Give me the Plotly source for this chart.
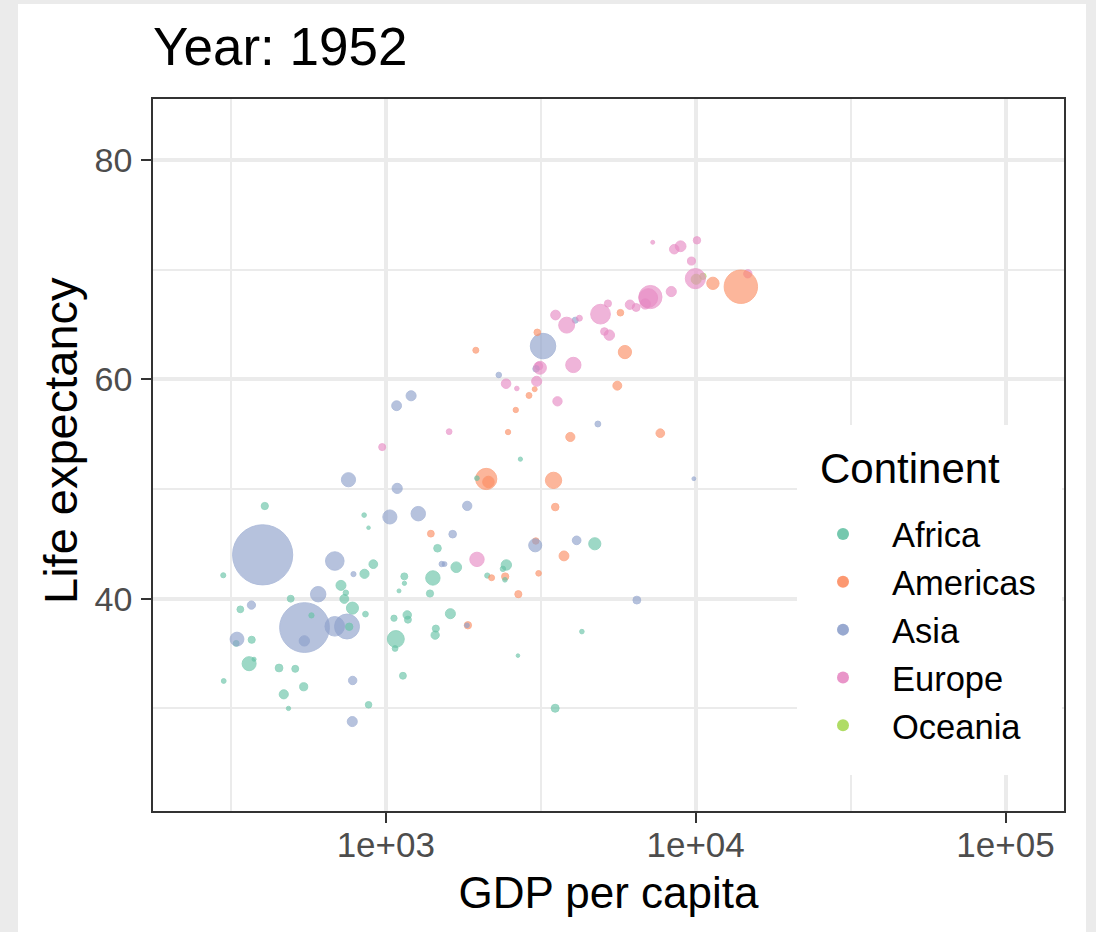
import numpy as np
import plotly.graph_objects as go

# ---------------- data (gapminder, year 1952) ----------------
countries = [
    "Afghanistan", "Albania", "Algeria", "Angola", "Argentina", "Australia", "Austria", "Bahrain",
    "Bangladesh", "Belgium", "Benin", "Bolivia", "Bosnia and Herzegovina", "Botswana", "Brazil",
    "Bulgaria", "Burkina Faso", "Burundi", "Cambodia", "Cameroon", "Canada",
    "Central African Republic", "Chad", "Chile", "China", "Colombia", "Comoros",
    "Congo, Dem. Rep.", "Congo, Rep.", "Costa Rica", "Cote d'Ivoire", "Croatia", "Cuba",
    "Czech Republic", "Denmark", "Djibouti", "Dominican Republic", "Ecuador", "Egypt",
    "El Salvador", "Equatorial Guinea", "Eritrea", "Ethiopia", "Finland", "France", "Gabon",
    "Gambia", "Germany", "Ghana", "Greece", "Guatemala", "Guinea", "Guinea-Bissau", "Haiti",
    "Honduras", "Hong Kong, China", "Hungary", "Iceland", "India", "Indonesia", "Iran", "Iraq",
    "Ireland", "Israel", "Italy", "Jamaica", "Japan", "Jordan", "Kenya", "Korea, Dem. Rep.",
    "Korea, Rep.", "Kuwait", "Lebanon", "Lesotho", "Liberia", "Libya", "Madagascar", "Malawi",
    "Malaysia", "Mali", "Mauritania", "Mauritius", "Mexico", "Mongolia", "Montenegro", "Morocco",
    "Mozambique", "Myanmar", "Namibia", "Nepal", "Netherlands", "New Zealand", "Nicaragua",
    "Niger", "Nigeria", "Norway", "Oman", "Pakistan", "Panama", "Paraguay", "Peru",
    "Philippines", "Poland", "Portugal", "Puerto Rico", "Reunion", "Romania", "Rwanda",
    "Sao Tome and Principe", "Saudi Arabia", "Senegal", "Serbia", "Sierra Leone", "Singapore",
    "Slovak Republic", "Slovenia", "Somalia", "South Africa", "Spain", "Sri Lanka", "Sudan",
    "Swaziland", "Sweden", "Switzerland", "Syria", "Taiwan", "Tanzania", "Thailand", "Togo",
    "Trinidad and Tobago", "Tunisia", "Turkey", "Uganda", "United Kingdom", "United States",
    "Uruguay", "Venezuela", "Vietnam", "West Bank and Gaza", "Yemen, Rep.", "Zambia", "Zimbabwe",
]

continents = [
    "Asia", "Europe", "Africa", "Africa", "Americas", "Oceania", "Europe", "Asia",
    "Asia", "Europe", "Africa", "Americas", "Europe", "Africa", "Americas",
    "Europe", "Africa", "Africa", "Asia", "Africa", "Americas",
    "Africa", "Africa", "Americas", "Asia", "Americas", "Africa",
    "Africa", "Africa", "Americas", "Africa", "Europe", "Americas",
    "Europe", "Europe", "Africa", "Americas", "Americas", "Africa",
    "Americas", "Africa", "Africa", "Africa", "Europe", "Europe", "Africa",
    "Africa", "Europe", "Africa", "Europe", "Americas", "Africa", "Africa", "Americas",
    "Americas", "Asia", "Europe", "Europe", "Asia", "Asia", "Asia", "Asia",
    "Europe", "Asia", "Europe", "Americas", "Asia", "Asia", "Africa", "Asia",
    "Asia", "Asia", "Asia", "Africa", "Africa", "Africa", "Africa", "Africa",
    "Asia", "Africa", "Africa", "Africa", "Americas", "Asia", "Europe", "Africa",
    "Africa", "Asia", "Africa", "Asia", "Europe", "Oceania", "Americas",
    "Africa", "Africa", "Europe", "Asia", "Asia", "Americas", "Americas", "Americas",
    "Asia", "Europe", "Europe", "Americas", "Africa", "Europe", "Africa",
    "Africa", "Asia", "Africa", "Europe", "Africa", "Asia",
    "Europe", "Europe", "Africa", "Africa", "Europe", "Asia", "Africa",
    "Africa", "Europe", "Europe", "Asia", "Asia", "Africa", "Asia", "Africa",
    "Americas", "Africa", "Europe", "Africa", "Europe", "Americas",
    "Americas", "Americas", "Asia", "Asia", "Asia", "Africa", "Africa",
]

life_exp = [
    28.801, 55.23, 43.077, 30.015, 62.485, 69.12, 66.8, 50.939,
    37.484, 68.0, 38.223, 40.414, 53.82, 47.622, 50.917,
    59.6, 31.975, 39.031, 39.417, 38.523, 68.75,
    35.463, 38.092, 54.745, 44.0, 50.643, 40.715,
    39.143, 42.111, 57.206, 40.477, 61.21, 59.421,
    66.87, 70.78, 34.812, 45.928, 48.357, 41.893,
    45.262, 34.482, 35.928, 34.078, 66.55, 67.41, 37.003,
    30.0, 67.5, 43.149, 65.86, 42.023, 33.609, 32.5, 37.579,
    41.912, 60.96, 64.03, 72.49, 37.373, 37.468, 44.869, 45.32,
    66.91, 65.39, 65.94, 58.53, 63.03, 43.158, 42.27, 50.056,
    47.453, 55.565, 55.928, 42.138, 38.48, 42.723, 36.681, 36.256,
    48.463, 33.685, 40.543, 50.986, 50.789, 42.244, 59.164, 42.873,
    31.286, 36.319, 41.725, 36.157, 72.13, 69.39, 42.314,
    37.444, 36.324, 72.67, 37.578, 43.436, 55.191, 62.649, 43.902,
    47.752, 61.31, 59.82, 64.28, 52.724, 61.05, 40.0,
    46.471, 39.875, 37.278, 57.996, 30.331, 60.396,
    64.36, 65.57, 32.978, 45.009, 64.94, 57.593, 38.635,
    41.407, 71.86, 69.62, 45.883, 58.5, 41.215, 50.848, 38.596,
    59.1, 44.6, 43.585, 39.978, 69.18, 68.44,
    66.071, 55.088, 40.412, 43.16, 32.548, 42.038, 48.451,
]

pop = [
    8425333, 1282697, 9279525, 4232095, 17876956, 8691212, 6927772, 120447,
    46886859, 8730405, 1738315, 2883315, 2791000, 442308, 56602560,
    7274900, 4469979, 2445618, 4693836, 5009067, 14785584,
    1291695, 2682462, 6377619, 556263527, 12350771, 153936,
    14100005, 854885, 926317, 2977019, 3882229, 6007797,
    9125183, 4334000, 63149, 2491346, 3548753, 22223309,
    2042865, 216964, 1438760, 20860941, 4090500, 42459667, 420702,
    284320, 69145952, 5581001, 7733250, 3146381, 2664249, 580653, 3201488,
    1517453, 2125900, 9504000, 147962, 372000000, 82052000, 17272000, 5441766,
    2952156, 1620914, 47666000, 1426095, 86459025, 607914, 6464046, 8865488,
    20947571, 160000, 1439529, 748747, 863308, 1019729, 4762912, 2917802,
    6748378, 3838168, 1022556, 516556, 30144317, 800663, 413834, 9939217,
    6446316, 20092996, 485831, 9182536, 10381988, 1994794, 1165790,
    3379468, 33119096, 3327728, 507833, 41346560, 940080, 1555876, 8025700,
    22438691, 25730551, 8526050, 2227000, 257700, 16630000, 2534927,
    60011, 4005677, 2755589, 6860147, 2143249, 1127000,
    3558137, 1489518, 2526994, 14264935, 28549870, 7982342, 8504667,
    290243, 7124673, 4815000, 3661549, 8550362, 8322925, 21289402, 1219113,
    662850, 3647735, 22235677, 5824797, 50430000, 157553000,
    2252965, 5439568, 26246839, 1030585, 4963829, 2672000, 3080907,
]

gdp_percap = [
    779.4453, 1601.0561, 2449.0082, 3520.6103, 5911.3151, 10039.5956, 6137.0765, 9867.0848,
    684.2442, 8343.1051, 1062.7522, 2677.3263, 973.5332, 851.2411, 2108.9444,
    2444.2866, 543.2552, 339.2965, 368.4693, 1172.6677, 11367.1611,
    1071.3107, 1178.6659, 3939.9788, 400.4486, 2144.1151, 1102.9909,
    780.5423, 2125.6214, 2627.0095, 1388.5947, 3119.2365, 5586.5388,
    6876.1403, 9692.3852, 2669.5295, 1397.7171, 3522.1107, 1418.8224,
    3048.3029, 375.6431, 328.9406, 362.1463, 6424.5191, 7029.8093, 4293.4765,
    485.2307, 7144.1144, 911.2989, 3530.6901, 2428.2378, 510.1965, 299.8503, 1840.3669,
    2194.9262, 3054.4212, 5263.6738, 7267.6884, 546.5657, 749.6817, 3035.3260, 4129.7661,
    5210.2803, 4086.5221, 4931.4042, 2898.5309, 3216.9563, 1546.9078, 853.5409, 1088.2778,
    1030.5922, 108382.3529, 4834.8041, 298.8462, 575.5730, 2387.5481, 1443.0117, 369.1651,
    1831.1329, 452.3370, 743.1159, 1967.9557, 3478.1255, 786.5669, 2647.5856, 1688.2036,
    468.5260, 331.0, 2423.7804, 545.8657, 8941.5719, 10556.5757, 3112.3639,
    761.8794, 1077.2819, 10095.4217, 1828.2303, 684.5971, 2480.3803, 1952.3087, 3758.5234,
    1272.8810, 4029.3297, 3068.3199, 3081.9598, 2718.8853, 3144.6132, 493.3239,
    879.5836, 6459.5548, 1450.3570, 3581.4594, 879.7877, 2315.1382,
    5074.6591, 4215.0417, 1135.7498, 4725.2955, 3834.0347, 1083.5320, 1615.9911,
    1148.3766, 8527.8447, 14734.2328, 1643.4854, 1206.9479, 716.6501, 757.7974, 859.8087,
    3023.2719, 1468.4756, 1969.1010, 734.7535, 9979.5085, 13990.4821,
    5716.7667, 7689.7998, 605.0665, 1515.5923, 781.7176, 1147.3888, 406.8841,
]

continent_order = ["Africa", "Americas", "Asia", "Europe", "Oceania"]
x_tick_vals = [1e3, 1e4, 1e5]
x_tick_text = ["1e+03", "1e+04", "1e+05"]
y_tick_vals = [40, 60, 80]

# ---------------- styling ----------------
FONT = "Liberation Sans, Arial, Helvetica, sans-serif"
palette = {
    "Africa": (102, 194, 165),
    "Americas": (252, 141, 98),
    "Asia": (141, 160, 203),
    "Europe": (231, 138, 195),
    "Oceania": (166, 216, 84),
}
ALPHA = 0.9


def rgba(c, a=ALPHA):
    return "rgba(%d,%d,%d,%.3f)" % (c[0], c[1], c[2], a)


# size scale spans the full animation (all years) like ggplot's trained scale
POP_SCALE_MAX = 1318683096.0
pop_arr = np.array(pop, dtype=float)
marker_size = 3.0 + 88.0 * np.sqrt(pop_arr / POP_SCALE_MAX)
point_colors = [rgba(palette[c]) for c in continents]

# axis limits (ggplot default 5% expansion of full-data range)
x_range = [2.2487, 5.1887]
y_range = [20.649, 85.553]

fig = go.Figure()

# all points in data order (like ggplot), one trace
fig.add_trace(go.Scatter(
    x=gdp_percap, y=life_exp, mode="markers",
    text=countries,
    marker=dict(size=marker_size, sizemode="diameter", color=point_colors,
                line=dict(color=point_colors, width=1)),
    showlegend=False, hoverinfo="text",
))

# legend entries
for cont in continent_order:
    fig.add_trace(go.Scatter(
        x=[None], y=[None], mode="markers", name=cont,
        marker=dict(size=12, color=rgba(palette[cont])),
        showlegend=True,
    ))

# panel geometry in pixels
W, H = 1096, 932
L, R, T, B = 153, 1064, 99, 811
pw, ph = R - L, B - T


def px_x(px):
    return (px - L) / pw


def px_y(py):
    return 1 - (py - T) / ph


shapes = [
    # white page area over gray window background
    dict(type="rect", xref="paper", yref="paper",
         x0=px_x(18), x1=px_x(1086), y0=px_y(H + 5), y1=px_y(4),
         fillcolor="white", line=dict(width=0), layer="below"),
    # legend box (covers the grid inside the panel)
    dict(type="rect", xref="paper", yref="paper",
         x0=px_x(797), x1=px_x(1062), y0=px_y(775), y1=px_y(425),
         fillcolor="white", line=dict(width=0), layer="above"),
]

annotations = [
    dict(text="Continent", xref="paper", yref="paper", x=px_x(818), y=px_y(468),
         xanchor="left", yanchor="middle", showarrow=False,
         font=dict(size=42, color="black", family=FONT)),
    dict(text="Life expectancy", xref="paper", yref="paper", x=px_x(60), y=px_y(441),
         xanchor="center", yanchor="middle", textangle=-90, showarrow=False,
         font=dict(size=47, color="black", family=FONT)),
]

fig.update_layout(
    width=W, height=H,
    margin=dict(l=L, r=W - R, t=T, b=H - B, pad=0),
    paper_bgcolor="#EBEBEB",
    plot_bgcolor="white",
    font=dict(family=FONT, color="black"),
    title=dict(text="Year: 1952", x=0, xref="paper", xanchor="left",
               y=1 - 46.5 / H, yref="container", yanchor="middle",
               font=dict(size=53, color="black", family=FONT)),
    shapes=shapes,
    annotations=annotations,
    showlegend=True,
    legend=dict(
        x=px_x(794), y=px_y(505), xanchor="left", yanchor="top",
        bgcolor="rgba(0,0,0,0)", borderwidth=0,
        font=dict(size=34.5, color="black", family=FONT),
        itemsizing="constant", itemwidth=88, tracegroupgap=0,
    ),
)

fig.update_xaxes(
    type="log", range=x_range,
    tickmode="array", tickvals=x_tick_vals, ticktext=x_tick_text,
    ticks="outside", ticklen=10, tickwidth=2, tickcolor="#333333",
    tickfont=dict(size=35, color="#4D4D4D", family=FONT),
    ticklabelstandoff=-8,
    showgrid=True, gridcolor="#EBEBEB", gridwidth=3.5,
    minor=dict(tickmode="array", tickvals=[10 ** 2.5, 10 ** 3.5, 10 ** 4.5],
               showgrid=True, gridcolor="#EBEBEB", gridwidth=1.8, ticks=""),
    showline=True, linecolor="#333333", linewidth=1.5, mirror=True,
    zeroline=False,
    title=dict(text="GDP per capita", font=dict(size=44, color="black", family=FONT), standoff=14),
)
fig.update_yaxes(
    range=y_range,
    tickmode="array", tickvals=y_tick_vals,
    ticks="outside", ticklen=10, tickwidth=2, tickcolor="#333333",
    tickfont=dict(size=34, color="#4D4D4D", family=FONT),
    ticklabelstandoff=2,
    showgrid=True, gridcolor="#EBEBEB", gridwidth=3.5,
    minor=dict(tickmode="array", tickvals=[30, 50, 70],
               showgrid=True, gridcolor="#EBEBEB", gridwidth=1.8, ticks=""),
    showline=True, linecolor="#333333", linewidth=1.5, mirror=True,
    zeroline=False,
)

fig.write_html(
    "out.html",
    config={"displayModeBar": False},
    post_script="document.body.style.margin='0';document.body.style.background='#EBEBEB';",
)
